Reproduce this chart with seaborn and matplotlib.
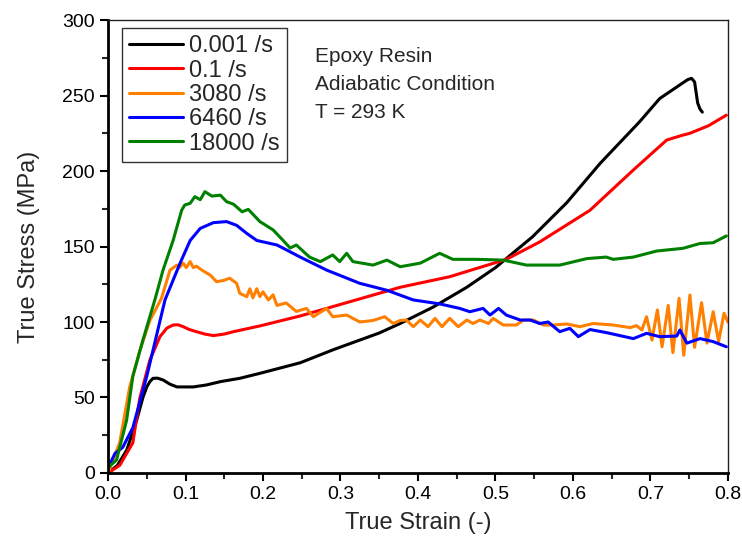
import numpy as np
import pandas as pd
import seaborn as sns
import matplotlib.pyplot as plt
from matplotlib.ticker import MultipleLocator

# curves, strain (-) and stress (MPa)
strain_0001 = [0.0, 0.012, 0.024, 0.037, 0.045, 0.05, 0.054, 0.058, 0.064, 0.071, 0.08, 0.089,
               0.11, 0.127, 0.145, 0.17, 0.196, 0.248, 0.29, 0.3, 0.35, 0.377, 0.42, 0.463,
               0.5, 0.514, 0.548, 0.592, 0.635, 0.686, 0.712, 0.735, 0.748, 0.753, 0.757, 0.759,
               0.761, 0.764, 0.767]
stress_0001 = [0.0, 5, 15, 35, 50, 57, 60.5, 62.7, 62.8, 61.6, 58.8, 57,
               57, 58.3, 60.5, 62.7, 66, 73, 81.5, 83.4, 92.7, 99, 110, 123,
               136, 142, 156.5, 179, 205, 232.6, 248, 256, 260.5, 261.4, 259, 252,
               245, 241, 239]

strain_01 = [0.0, 0.015, 0.032, 0.041, 0.054, 0.067, 0.076, 0.084, 0.09, 0.097, 0.105, 0.114,
             0.125, 0.136, 0.15, 0.162, 0.196, 0.248, 0.282, 0.377, 0.441, 0.514, 0.557, 0.622,
             0.678, 0.721, 0.74, 0.751, 0.775, 0.798]
stress_01 = [0.0, 5, 20, 49.6, 74.8, 90.3, 96, 98, 98.2, 96.9, 95, 93.6,
             92, 91, 92, 93.6, 97.4, 104, 109, 123, 130, 141.5, 153, 174,
             200.7, 220.5, 223.5, 225, 230, 237]

strain_3080 = [0.0, 0.015, 0.028, 0.041, 0.054, 0.069, 0.08, 0.089, 0.092, 0.097, 0.101, 0.106,
               0.11, 0.114, 0.121, 0.132, 0.14, 0.149, 0.157, 0.166, 0.17, 0.179, 0.183, 0.187,
               0.192, 0.196, 0.2, 0.207, 0.213, 0.218, 0.23, 0.243, 0.256, 0.265, 0.282, 0.29,
               0.308, 0.325, 0.342, 0.357, 0.368, 0.377, 0.385, 0.394, 0.403, 0.413, 0.422, 0.431,
               0.441, 0.452, 0.463, 0.471, 0.48, 0.491, 0.497, 0.51, 0.527, 0.536, 0.549, 0.562,
               0.575, 0.592, 0.609, 0.626, 0.652, 0.674, 0.682, 0.689, 0.695, 0.702, 0.709, 0.715,
               0.723, 0.729, 0.737, 0.743, 0.751, 0.757, 0.766, 0.773, 0.781, 0.788, 0.795, 0.8]
stress_3080 = [0.0, 20, 57, 81, 101, 115.7, 134.4, 137.7, 136, 139, 136, 140,
               136, 137, 134.4, 131, 126.7, 127.5, 129, 125.6, 119, 116.8, 122, 116,
               122, 116.8, 120, 114.6, 118, 111, 112.6, 107, 109, 103.5, 109, 103.5,
               104.6, 100, 101, 103.5, 99, 101, 101.3, 96.9, 101.3, 96.9, 102.4, 96.9,
               102.4, 96.9, 101.3, 99, 101.3, 99, 102.4, 98, 98, 101.3, 101.3, 98,
               98, 98.7, 96.9, 99, 98, 96.3, 97.6, 94.7, 103.5, 88, 108, 83.6,
               111, 79.7, 115.7, 78, 117.9, 83.2, 112.8, 86, 106.8, 87, 105.8, 100]

strain_6460 = [0.0, 0.003, 0.009, 0.019, 0.032, 0.05, 0.0735, 0.093, 0.106, 0.119, 0.136, 0.153,
               0.166, 0.179, 0.192, 0.218, 0.235, 0.248, 0.282, 0.325, 0.36, 0.394, 0.428, 0.454,
               0.467, 0.484, 0.493, 0.504, 0.514, 0.532, 0.545, 0.557, 0.568, 0.583, 0.596, 0.607,
               0.622, 0.643, 0.678, 0.695, 0.712, 0.734, 0.738, 0.747, 0.764, 0.781, 0.798]
stress_6460 = [4, 6.6, 13, 17, 30, 64, 114.6, 139, 154, 162, 165.8, 166.5,
               164, 158.7, 154, 151, 146.5, 143, 134.4, 125.6, 121, 114.6, 112, 109,
               106.8, 109, 104.6, 109, 104.6, 101.3, 101.3, 99, 100, 93.6, 95.8, 90.3,
               95, 93, 89, 92.5, 90.3, 90.7, 94.7, 86, 89, 87, 83.6]

strain_18000 = [0.0, 0.003, 0.011, 0.024, 0.032, 0.045, 0.061, 0.071, 0.084, 0.095, 0.099, 0.106,
                0.112, 0.119, 0.125, 0.134, 0.145, 0.153, 0.162, 0.173, 0.181, 0.196, 0.213, 0.226,
                0.235, 0.243, 0.26, 0.274, 0.29, 0.299, 0.308, 0.316, 0.342, 0.36, 0.377, 0.403,
                0.428, 0.445, 0.476, 0.51, 0.54, 0.583, 0.618, 0.643, 0.652, 0.678, 0.708, 0.742,
                0.764, 0.781, 0.798]
stress_18000 = [3, 5, 8.6, 35, 64, 88, 115.7, 134.4, 154, 174, 177.5, 178.6,
                183, 181, 186.3, 183.4, 184, 179.7, 178, 173, 174.6, 166.5, 161, 154,
                149, 151, 143, 140, 144.4, 140, 145.5, 140, 137.7, 141, 136.6, 139,
                145.5, 141.5, 141.5, 141, 137.7, 137.7, 142, 143, 141.5, 143, 147, 148.8,
                152, 152.5, 157]

labels = ['0.001 /s', '0.1 /s', '3080 /s', '6460 /s', '18000 /s']
colors = ['#000000', '#ff0000', '#ff8000', '#0000ff', '#008000']
series = [(strain_0001, stress_0001), (strain_01, stress_01), (strain_3080, stress_3080),
          (strain_6460, stress_6460), (strain_18000, stress_18000)]

sns.set_style('ticks')
plt.rcParams['font.family'] = ['Liberation Sans', 'DejaVu Sans']

fig = plt.figure(figsize=(7.42, 5.47), dpi=100)
ax = fig.add_axes([0.1456, 0.1353, 0.8354, 0.8281])

for (xs, ys), lab, col in zip(series, labels, colors):
    df = pd.DataFrame({'strain': xs, 'stress': ys})
    sns.lineplot(data=df, x='strain', y='stress', sort=False, estimator=None,
                 color=col, linewidth=2.2, label=lab, ax=ax)

ax.set_xlim(0, 0.8)
ax.set_ylim(0, 300)
ax.xaxis.set_major_locator(MultipleLocator(0.1))
ax.xaxis.set_minor_locator(MultipleLocator(0.05))
ax.yaxis.set_major_locator(MultipleLocator(50))
ax.yaxis.set_minor_locator(MultipleLocator(25))
ax.xaxis.set_major_formatter(plt.FuncFormatter(lambda v, p: f'{v:.1f}'))
ax.tick_params(which='major', direction='out', length=6, width=1.5, labelsize=14, colors='black')
ax.tick_params(which='minor', direction='out', length=4, width=1.5)

for side in ['left', 'bottom']:
    ax.spines[side].set_linewidth(2)
    ax.spines[side].set_color('black')
for side in ['top', 'right']:
    ax.spines[side].set_visible(True)
    ax.spines[side].set_linewidth(1)
    ax.spines[side].set_color('#222222')

ax.set_xlabel('True Strain (-)', fontsize=17, labelpad=6)
ax.set_ylabel('True Stress (MPa)', fontsize=17, labelpad=16)

ax.text(0.267, 282, 'Epoxy Resin\nAdiabatic Condition\nT = 293 K', fontsize=15,
        va='top', ha='left', linespacing=1.6)

leg = ax.legend(loc='upper left', bbox_to_anchor=(0.022, 0.982), fontsize=17, frameon=True,
                fancybox=False, handlelength=2.3, handletextpad=0.25, borderpad=0.3,
                labelspacing=0.1, borderaxespad=0)
leg.get_frame().set_edgecolor('#333333')
leg.get_frame().set_linewidth(1)
leg.get_frame().set_alpha(1)

fig.savefig('out.png', dpi=100)
